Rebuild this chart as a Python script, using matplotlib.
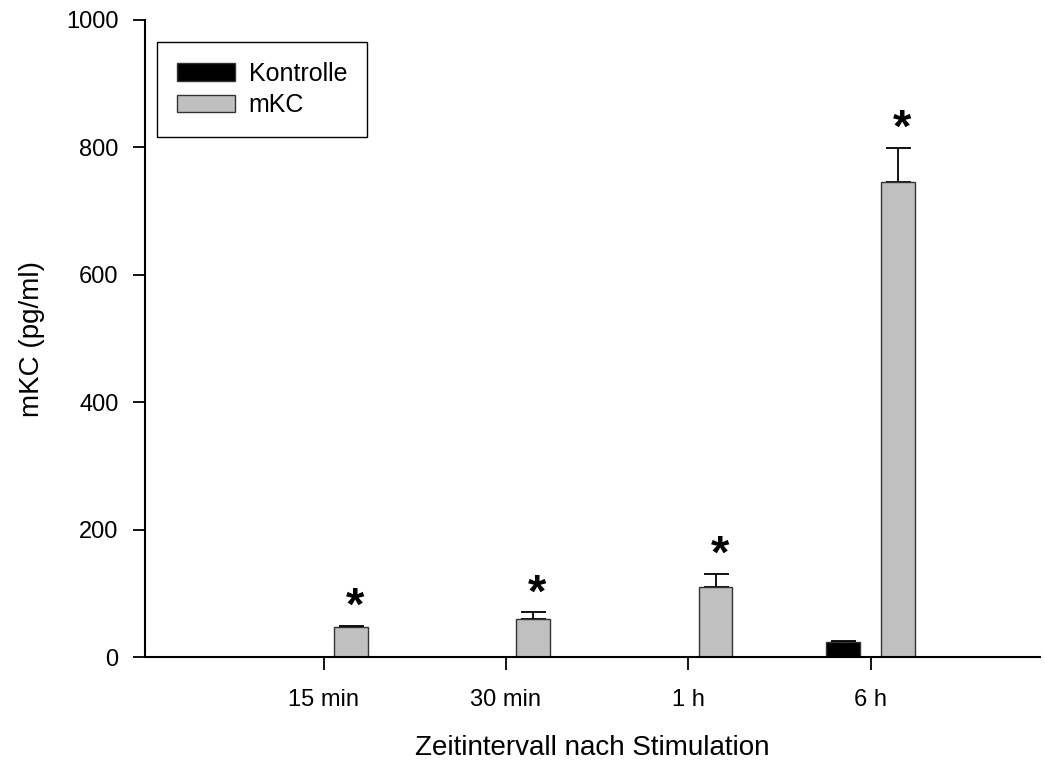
import numpy as np
import matplotlib.pyplot as plt

plt.rcParams['font.family'] = ['Liberation Sans', 'DejaVu Sans']

# Daten
zeitpunkte = ['15 min', '30 min', '1 h', '6 h']
kontrolle = [0, 0, 0, 23]
kontrolle_err = [0, 0, 0, 1.5]
mkc = [47.5, 59, 110, 745]
mkc_err = [1.5, 11, 21, 54]
signifikant = [True, True, True, True]

x = np.arange(1, len(zeitpunkte) + 1)
breite = 0.185
versatz = 0.15

fig = plt.figure(figsize=(10.45, 7.6), dpi=100)
ax = fig.add_axes([0.1388, 0.1355, 0.8565, 0.8382])

ax.bar(x - versatz, kontrolle, breite, color='black', edgecolor='#333333',
       linewidth=1, label='Kontrolle', zorder=2)
ax.bar(x + versatz, mkc, breite, color='#c0c0c0', edgecolor='#333333',
       linewidth=1, label='mKC', zorder=2)

# nur obere Fehlerbalken
for xi, v, e in zip(x - versatz, kontrolle, kontrolle_err):
    if v > 0:
        ax.errorbar(xi, v, yerr=[[0], [e]], color='black', capsize=9,
                    elinewidth=1.3, capthick=1.3, zorder=1)
for xi, v, e in zip(x + versatz, mkc, mkc_err):
    ax.errorbar(xi, v, yerr=[[0], [e]], color='black', capsize=9,
                elinewidth=1.3, capthick=1.3, zorder=1)

# Sterne
for xi, v, e, s in zip(x + versatz, mkc, mkc_err, signifikant):
    if s:
        ax.annotate('*', (xi, v + e), xytext=(3, -3), textcoords='offset points',
                    ha='center', va='bottom', fontsize=34, fontweight='bold')

ax.set_xlim(0.02, 4.93)
ax.set_ylim(0, 1000)
ax.set_xticks(x)
ax.set_xticklabels(zeitpunkte)
ax.set_yticks(np.arange(0, 1001, 200))

ax.spines['top'].set_visible(False)
ax.spines['right'].set_visible(False)
ax.spines['left'].set_linewidth(1.5)
ax.spines['bottom'].set_linewidth(1.5)
ax.tick_params(axis='both', labelsize=17, width=1.3, length=9, direction='out')
ax.tick_params(axis='y', pad=10)
ax.tick_params(axis='x', pad=14)

ax.set_xlabel('Zeitintervall nach Stimulation', fontsize=20, labelpad=17)
ax.set_ylabel('mKC (pg/ml)', fontsize=20, labelpad=15)

leg = ax.legend(loc='upper left', bbox_to_anchor=(0.0134, 0.9655), fontsize=18,
                fancybox=False, framealpha=1, edgecolor='black',
                handlelength=2.3, handleheight=0.7, borderpad=0.8,
                labelspacing=0.3, handletextpad=0.56, borderaxespad=0)
leg.get_frame().set_linewidth(1)

fig.savefig('out.png', dpi=100)
